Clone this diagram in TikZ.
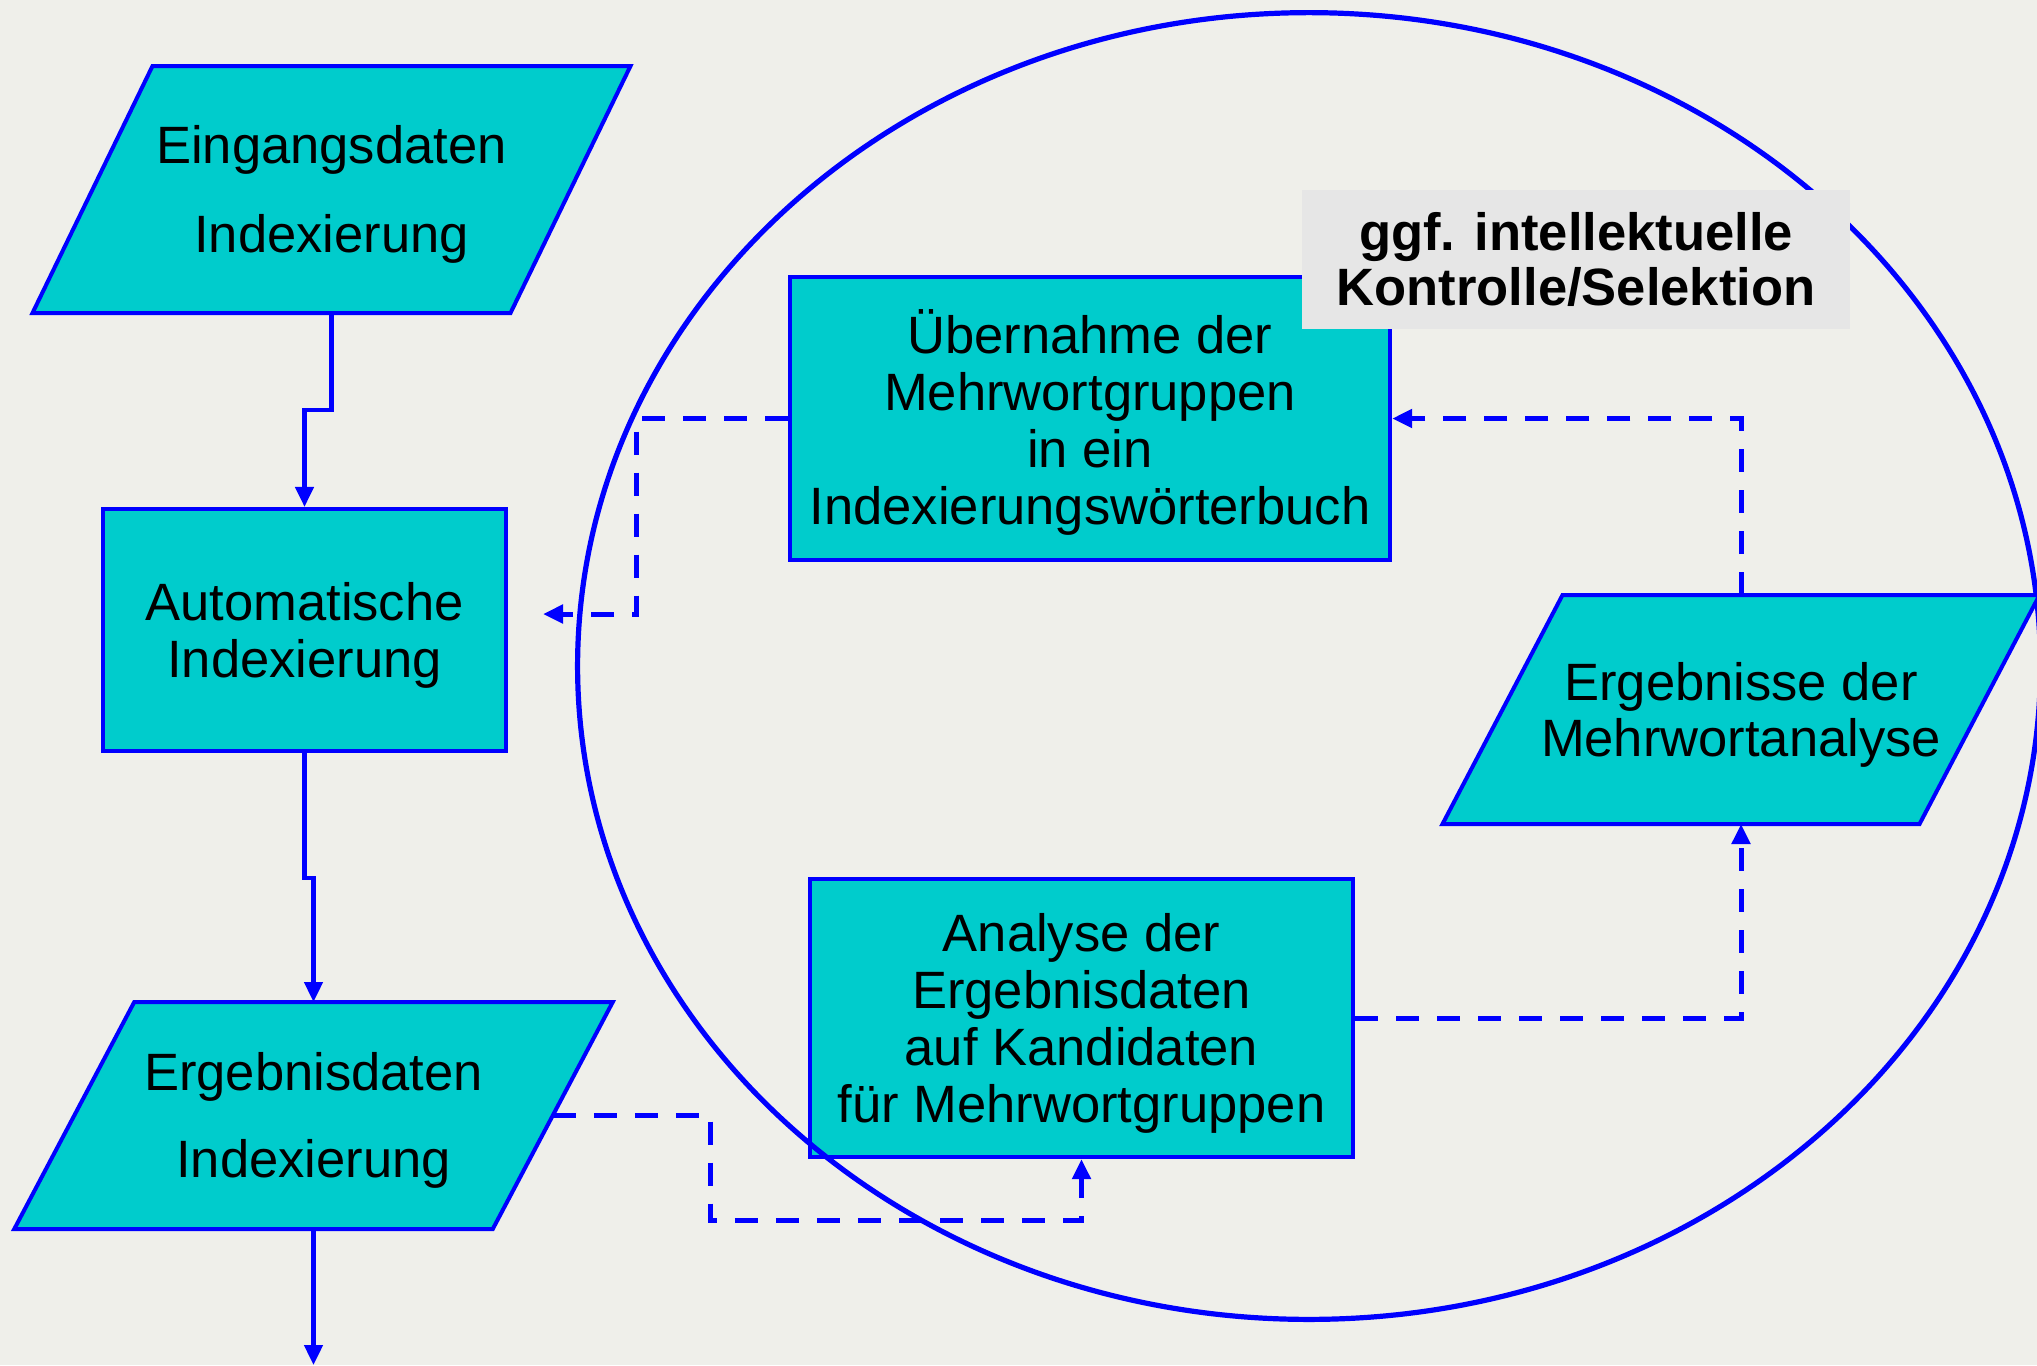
\documentclass[tikz,border=0pt]{standalone}
\usepackage{fontspec}
\setmainfont{Liberation Sans}
\usetikzlibrary{arrows.meta}

\definecolor{bgpaper}{HTML}{EFEFEA}
\definecolor{tealfill}{HTML}{00CCCC}
\definecolor{flowblue}{HTML}{0000FF}
\definecolor{notegray}{HTML}{E6E6E6}

\tikzset{
  boxline/.style={draw=flowblue, line width=0.04cm},
  procbox/.style={boxline, fill=tealfill, rectangle, inner sep=0pt},
  boxtext/.style={rectangle, inner sep=0pt, align=center,
    font=\fontsize{14.94}{16.2}\selectfont},
  datashape/.style={rectangle, inner sep=0pt, outer sep=0pt},
  slantshape/.style={boxline, fill=tealfill, line join=miter},
  flow/.style={draw=flowblue, line width=0.045cm, -{Triangle[length=0.2cm,width=0.18cm]}},
  dflow/.style={flow, line width=0.05cm, dash pattern=on 0.23cm off 0.18cm},
  loopring/.style={draw=flowblue, line width=0.052cm},
  notebox/.style={fill=notegray, inner sep=0pt, align=center,
    font=\bfseries\fontsize{14.94}{15.4}\selectfont},
}

% slanted data box: name, centre x, centre y, mean width, height, skew, line spacing, text
\newcommand\slantnode[8]{%
  \path[slantshape] ({#2-#4/2+#6/2},{#3-#5/2}) -- ({#2+#4/2+#6/2},{#3-#5/2})
    -- ({#2+#4/2-#6/2},{#3+#5/2}) -- ({#2-#4/2-#6/2},{#3+#5/2}) -- cycle;
  \node[datashape, minimum width=#4*0.01cm, minimum height=#5*0.01cm] (#1) at (#2,#3) {};
  \node[boxtext, font=\fontsize{14.94}{#7}\selectfont] (#1text) at ([yshift=-0.05cm]#1.center) {#8};
}

\begin{document}
\begin{tikzpicture}[x=0.01cm, y=-0.01cm]
  \useasboundingbox (0,0) rectangle (2037,1365);
  \fill[bgpaper] (0,0) rectangle (2037,1365);

  % left column
  \slantnode{A}{331.5}{189.5}{478}{247}{120}{25.5}{Eingangsdaten\\Indexierung}
  \node[procbox, minimum width=4.03cm, minimum height=2.42cm] (B) at (304.5,630) {};
  \node[boxtext] (Btext) at ([yshift=-0.05cm]B.center) {Automatische\\Indexierung};
  \slantnode{C}{313.5}{1115.5}{478.5}{227}{120}{24.7}{Ergebnisdaten\\Indexierung}

  % analysis step
  \node[procbox, minimum width=5.43cm, minimum height=2.78cm] (D) at (1081.5,1018) {};
  \node[boxtext] (Dtext) at ([yshift=-0.05cm]D.center)
    {Analyse der\\Ergebnisdaten\\auf Kandidaten\\für Mehrwortgruppen};

  % loop boundary
  \draw[loopring] (1309,666) ellipse [x radius=7.31cm, y radius=6.53cm];

  \slantnode{E}{1741}{709.5}{477}{229}{120}{15.9}{Ergebnisse der\\Mehrwortanalyse}
  \node[procbox, minimum width=6.0cm, minimum height=2.83cm] (F) at (1090,418.5) {};
  \node[boxtext] (Ftext) at ([yshift=-0.04cm]F.center)
    {Übernahme der\\Mehrwortgruppen\\in ein\\Indexierungswörterbuch};

  \node[notebox, minimum width=5.48cm, minimum height=1.39cm] (N) at (1576,259.5)
    {ggf. intellektuelle\\Kontrolle/Selektion};

  % connectors
  \coordinate (exitdown) at (313.5,1365);
  \coordinate (backtip) at (543,614);

  \draw[flow] (A.south) -- ++(0,97) -| (B.north);
  \draw[flow] (B.south) -- ++(0,125) -| (C.north);
  \draw[flow] (C.south) -- (exitdown);

  \draw[dflow] (C.east) -- ++(158,0) -- ++(0,105) -| (D.south);
  \draw[dflow] (D.east) -| (E.south);
  \draw[dflow] (E.north) |- (F.east);
  \draw[dflow] (F.west) -- ++(-151,0) |- (backtip);
\end{tikzpicture}
\end{document}
